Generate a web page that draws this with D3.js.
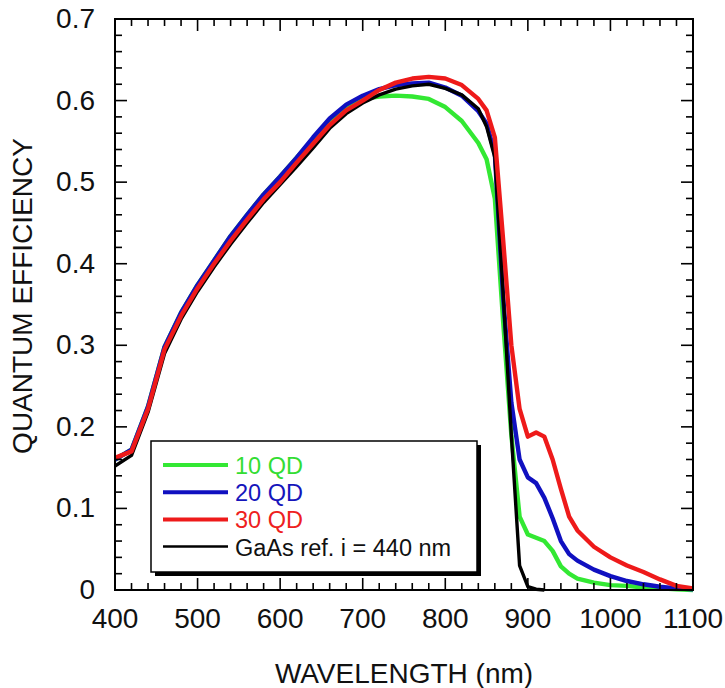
<!DOCTYPE html>
<html>
<head>
<meta charset="utf-8">
<script src="https://cdn.jsdelivr.net/npm/d3@7"></script>
<style>
  html, body { margin: 0; padding: 0; background: #fff; }
  svg { display: block; font-family: "Liberation Sans", Arial, sans-serif; }
</style>
</head>
<body>
<svg id="chart" width="725" height="688"></svg>
<script>
// ---- Data ----
const wavelength = [400,420,440,460,480,500,520,540,560,580,600,620,640,660,680,700,720,740,760,780,800,820,840,850,860,870,880,890,900,910,920,930,940,950,960,980,1000,1020,1040,1060,1080,1100];
const qd10 = [0.160,0.172,0.225,0.298,0.340,0.374,0.404,0.434,0.460,0.485,0.507,0.530,0.553,0.576,0.592,0.602,0.605,0.606,0.605,0.602,0.592,0.575,0.548,0.528,0.480,0.330,0.190,0.090,0.068,0.064,0.060,0.048,0.029,0.020,0.014,0.009,0.006,0.005,0.003,0.002,0.001,0.000];
const qd20 = [0.160,0.172,0.225,0.298,0.340,0.374,0.404,0.434,0.460,0.485,0.507,0.530,0.555,0.578,0.595,0.606,0.614,0.619,0.621,0.622,0.616,0.606,0.587,0.572,0.535,0.360,0.230,0.160,0.138,0.131,0.113,0.088,0.060,0.044,0.036,0.025,0.017,0.011,0.007,0.004,0.002,0.001];
const qd30 = [0.162,0.170,0.222,0.295,0.336,0.370,0.400,0.428,0.454,0.479,0.500,0.524,0.547,0.570,0.588,0.600,0.613,0.622,0.627,0.629,0.627,0.619,0.602,0.588,0.555,0.430,0.300,0.222,0.188,0.193,0.188,0.160,0.124,0.090,0.073,0.053,0.040,0.030,0.022,0.013,0.005,0.002];
const gaasRef = [0.152,0.165,0.218,0.290,0.332,0.366,0.396,0.424,0.450,0.475,0.497,0.519,0.542,0.566,0.584,0.597,0.607,0.614,0.618,0.620,0.615,0.607,0.590,0.568,0.530,0.365,0.190,0.030,0.004,0.001,0.000,null,null,null,null,null,null,null,null,null,null,null];
const seriesNames = ["10 QD","20 QD","30 QD","GaAs ref. i = 440 nm"];
const xTicks = [400,500,600,700,800,900,1000,1100];
const xTickLabels = ["400","500","600","700","800","900","1000","1100"];
const yTicks = [0,0.1,0.2,0.3,0.4,0.5,0.6,0.7];
const yTickLabels = ["0","0.1","0.2","0.3","0.4","0.5","0.6","0.7"];

// ---- Layout ----
const svg = d3.select("#chart");
const L = 115, R = 693, T = 19, B = 590;
const x = d3.scaleLinear().domain([400,1100]).range([L,R]);
const y = d3.scaleLinear().domain([0,0.7]).range([B,T]);

const series = [
  {name: seriesNames[0], vals: qd10, color: "#33e833", w: 4.4},
  {name: seriesNames[1], vals: qd20, color: "#1010c0", w: 4.4},
  {name: seriesNames[3], vals: gaasRef, color: "#000000", w: 3.4},
  {name: seriesNames[2], vals: qd30, color: "#ee1a1a", w: 4.4}
];

const line = d3.line()
  .defined(d => d[1] !== null)
  .x(d => x(d[0])).y(d => y(d[1]));

const plot = svg.append("g");
series.forEach(s => {
  const pts = wavelength.map((w,i) => [w, s.vals[i]]);
  plot.append("path").datum(pts)
    .attr("d", line).attr("fill","none")
    .attr("stroke", s.color).attr("stroke-width", s.w)
    .attr("stroke-linejoin","round");
});

// ---- Ticks (inward, all four sides) ----
const minorX = d3.range(400, 1101, 20);
const minorY = d3.range(0, 36).map(i => i * 0.02);
const ticksG = svg.append("g").attr("stroke","#000").attr("stroke-width",1.6);
const isMajorX = v => Math.abs(v/100 - Math.round(v/100)) < 1e-6;
const isMajorY = v => Math.abs(v*10 - Math.round(v*10)) < 1e-6;
minorX.forEach(v => {
  const len = isMajorX(v) ? 12 : 7;
  ticksG.append("line").attr("x1",x(v)).attr("x2",x(v)).attr("y1",B).attr("y2",B-len);
  ticksG.append("line").attr("x1",x(v)).attr("x2",x(v)).attr("y1",T).attr("y2",T+len);
});
minorY.forEach(v => {
  const len = isMajorY(v) ? 12 : 7;
  ticksG.append("line").attr("x1",L).attr("x2",L+len).attr("y1",y(v)).attr("y2",y(v));
  ticksG.append("line").attr("x1",R).attr("x2",R-len).attr("y1",y(v)).attr("y2",y(v));
});

// frame
svg.append("rect").attr("x",L).attr("y",T).attr("width",R-L).attr("height",B-T)
  .attr("fill","none").attr("stroke","#000").attr("stroke-width",2);

// tick labels
const fontSize = 28;
svg.append("g").selectAll("text").data(xTicks).join("text")
  .attr("x", d => x(d)).attr("y", 628)
  .attr("text-anchor","middle").attr("font-size",fontSize).attr("fill","#111")
  .text((d,i) => xTickLabels[i]);
svg.append("g").selectAll("text").data(yTicks).join("text")
  .attr("x", 95).attr("y", d => y(d)).attr("dy","0.32em")
  .attr("text-anchor","end").attr("font-size",fontSize).attr("fill","#111")
  .text((d,i) => yTickLabels[i]);

// axis titles
svg.append("text").attr("x", (L+R)/2).attr("y", 683)
  .attr("text-anchor","middle").attr("font-size", fontSize).attr("fill","#111")
  .text("WAVELENGTH (nm)");
svg.append("text").attr("transform","translate(32,296) rotate(-90)")
  .attr("text-anchor","middle").attr("font-size", fontSize).attr("fill","#111")
  .text("QUANTUM EFFICIENCY");

// ---- Legend ----
const lg = svg.append("g");
lg.append("rect").attr("x",155).attr("y",445).attr("width",326).attr("height",131).attr("fill","#000");
lg.append("rect").attr("x",151).attr("y",441).attr("width",326).attr("height",131)
  .attr("fill","#fff").attr("stroke","#000").attr("stroke-width",1.5);
const legendItems = [
  {name: seriesNames[0], color: "#33e833", text: "#33dd33", w: 4},
  {name: seriesNames[1], color: "#1010c0", text: "#1515bb", w: 4},
  {name: seriesNames[2], color: "#ee1a1a", text: "#ee2020", w: 4},
  {name: seriesNames[3], color: "#000", text: "#111", w: 2.5}
];
legendItems.forEach((it,i) => {
  const cy = 465 + i*27.2;
  lg.append("line").attr("x1",163).attr("x2",228).attr("y1",cy).attr("y2",cy)
    .attr("stroke",it.color).attr("stroke-width",it.w);
  lg.append("text").attr("x",235).attr("y",cy+9)
    .attr("font-size",23.5).attr("fill",it.text).text(it.name);
});
</script>
</body>
</html>
